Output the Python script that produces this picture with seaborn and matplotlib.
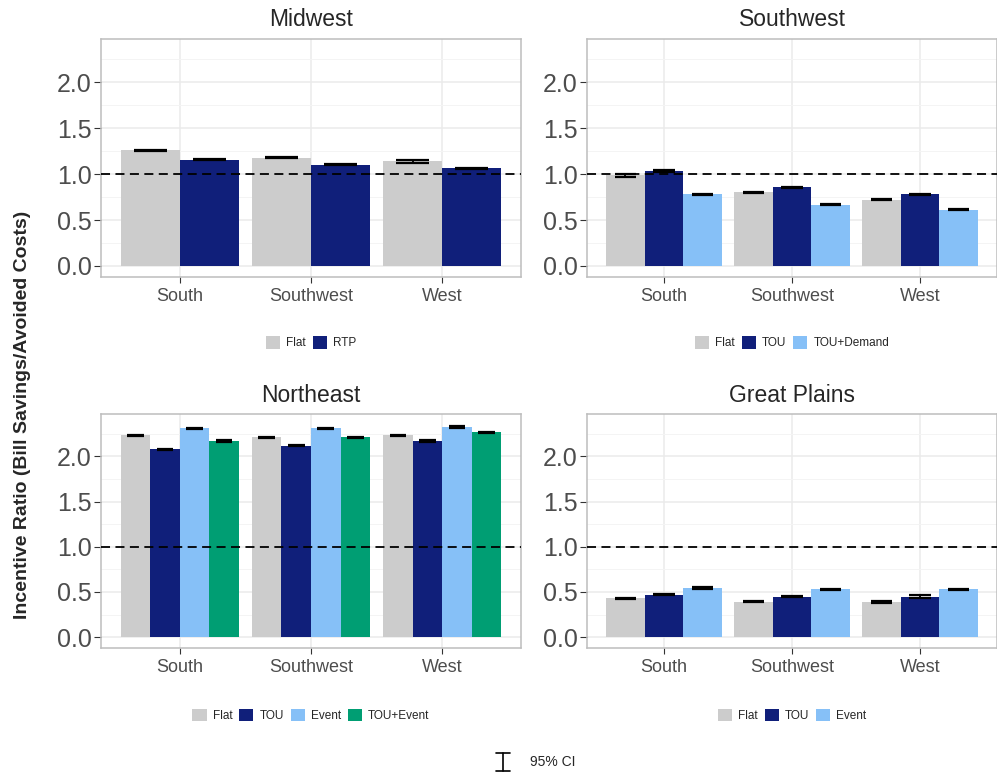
import numpy as np
import pandas as pd
import matplotlib
matplotlib.use("Agg")
import matplotlib.pyplot as plt
from matplotlib.lines import Line2D
import seaborn as sns

# values
regions = ["South", "Southwest", "West"]

midwest_rates = ["Flat", "RTP"]
midwest_ratio = [[1.257, 1.177, 1.140],
                 [1.158, 1.104, 1.064]]
midwest_ci = [[0.006, 0.006, 0.014],
              [0.005, 0.005, 0.005]]

southwest_rates = ["Flat", "TOU", "TOU+Demand"]
southwest_ratio = [[0.985, 0.800, 0.720],
                   [1.030, 0.856, 0.780],
                   [0.780, 0.667, 0.610]]
southwest_ci = [[0.012, 0.005, 0.005],
                [0.010, 0.005, 0.006],
                [0.005, 0.005, 0.005]]

northeast_rates = ["Flat", "TOU", "Event", "TOU+Event"]
northeast_ratio = [[2.236, 2.210, 2.236],
                   [2.080, 2.120, 2.170],
                   [2.310, 2.310, 2.326],
                   [2.170, 2.210, 2.270]]
northeast_ci = [[0.005, 0.005, 0.005],
                [0.005, 0.005, 0.015],
                [0.006, 0.006, 0.015],
                [0.013, 0.005, 0.005]]

plains_rates = ["Flat", "TOU", "Event"]
plains_ratio = [[0.430, 0.390, 0.390],
                [0.470, 0.450, 0.450],
                [0.545, 0.530, 0.530]]
plains_ci = [[0.005, 0.005, 0.015],
             [0.006, 0.005, 0.015],
             [0.015, 0.005, 0.005]]

rate_colors = {"Flat": "#CCCCCC", "RTP": "#101F7A", "TOU": "#101F7A",
               "TOU+Demand": "#86C0F7", "Event": "#86C0F7",
               "TOU+Event": "#009E73"}

sns.set_style("white")
plt.rcParams['font.family'] = ['Liberation Sans', 'DejaVu Sans']


def draw_panel(ax, title, rates, ratio, ci, legend_y):
    rows = []
    for rate, vals, errs in zip(rates, ratio, ci):
        for reg, v, e in zip(regions, vals, errs):
            rows.append({"region": reg, "rate": rate, "ratio": v, "ci": e})
    df = pd.DataFrame(rows)

    sns.barplot(data=df, x="region", y="ratio", hue="rate", order=regions,
                hue_order=rates, palette=rate_colors, width=0.9, saturation=1,
                errorbar=None, linewidth=0, ax=ax, zorder=2)

    # 95% CI bars
    for cont, rate in zip(ax.containers, rates):
        sub = df[df["rate"] == rate].set_index("region").loc[regions]
        for bar, (_, r) in zip(cont, sub.iterrows()):
            xc = bar.get_x() + bar.get_width() / 2
            hw = bar.get_width() * 0.28
            lo, hi = r["ratio"] - r["ci"], r["ratio"] + r["ci"]
            ax.vlines(xc, lo, hi, color="black", lw=1.3, zorder=4)
            ax.hlines([lo, hi], xc - hw, xc + hw, color="black", lw=1.6, zorder=4)

    ax.axhline(1.0, color="black", lw=1.3, ls=(0, (5, 3)), zorder=5)

    ax.set_xlim(-0.6, 2.6)
    ax.set_ylim(-0.12, 2.47)
    ax.set_yticks(np.arange(0, 2.01, 0.5))
    ax.set_yticks(np.arange(0.25, 2.5, 0.5), minor=True)
    ax.yaxis.set_major_formatter(matplotlib.ticker.FormatStrFormatter("%.1f"))
    ax.grid(which="major", color="#EBEBEB", lw=1.1)
    ax.grid(which="minor", axis="y", color="#F4F4F4", lw=0.7)
    ax.set_axisbelow(True)
    for s in ax.spines.values():
        s.set_color("#BDBDBD")
        s.set_linewidth(1.1)

    ax.tick_params(axis="y", which="major", left=True, length=5, width=0.8,
                   color="#333333", labelsize=18, labelcolor="#4D4D4D", pad=1.5)
    ax.tick_params(axis="y", which="minor", left=False)
    ax.tick_params(axis="x", bottom=True, length=4, width=0.8, color="#333333",
                   labelsize=13, labelcolor="#4D4D4D", pad=4)
    ax.set_xlabel("")
    ax.set_ylabel("")
    ax.set_title(title, fontsize=16.5, pad=9)

    ax.legend(loc="center", bbox_to_anchor=(0.5, legend_y), ncol=len(rates),
              frameon=False, fontsize=8.5, handlelength=1.2, handleheight=1.2,
              handletextpad=0.5, columnspacing=0.6, borderaxespad=0)


fig = plt.figure(figsize=(9.97, 7.75), dpi=100)
W, H = 997, 775


def panel_axes(x0, x1, y0, y1):
    return fig.add_axes([x0 / W, (H - y1) / H, (x1 - x0) / W, (y1 - y0) / H])


ax_mw = panel_axes(101, 521, 39, 277)
ax_sw = panel_axes(587, 997, 39, 277)
ax_ne = panel_axes(101, 521, 414, 648)
ax_gp = panel_axes(587, 997, 414, 648)

draw_panel(ax_mw, "Midwest", midwest_rates, midwest_ratio, midwest_ci, -0.277)
draw_panel(ax_sw, "Southwest", southwest_rates, southwest_ratio, southwest_ci, -0.277)
draw_panel(ax_ne, "Northeast", northeast_rates, northeast_ratio, northeast_ci, -0.29)
draw_panel(ax_gp, "Great Plains", plains_rates, plains_ratio, plains_ci, -0.29)

fig.text(22.5 / W, (H - 415) / H, "Incentive Ratio (Bill Savings/Avoided Costs)",
         rotation=90, ha="center", va="center", fontsize=14, fontweight="bold")

# 95% CI key
kx, ky0, ky1 = 503 / W, (H - 771) / H, (H - 753) / H
fig.add_artist(Line2D([kx, kx], [ky0, ky1], color="black", lw=1.2, transform=fig.transFigure))
for yy in (ky0, ky1):
    fig.add_artist(Line2D([kx - 7 / W, kx + 7 / W], [yy, yy], color="black", lw=1.2,
                          transform=fig.transFigure))
fig.text(530 / W, (H - 762) / H, "95% CI", ha="left", va="center", fontsize=10)

fig.savefig("out.png", dpi=100, facecolor="white")
